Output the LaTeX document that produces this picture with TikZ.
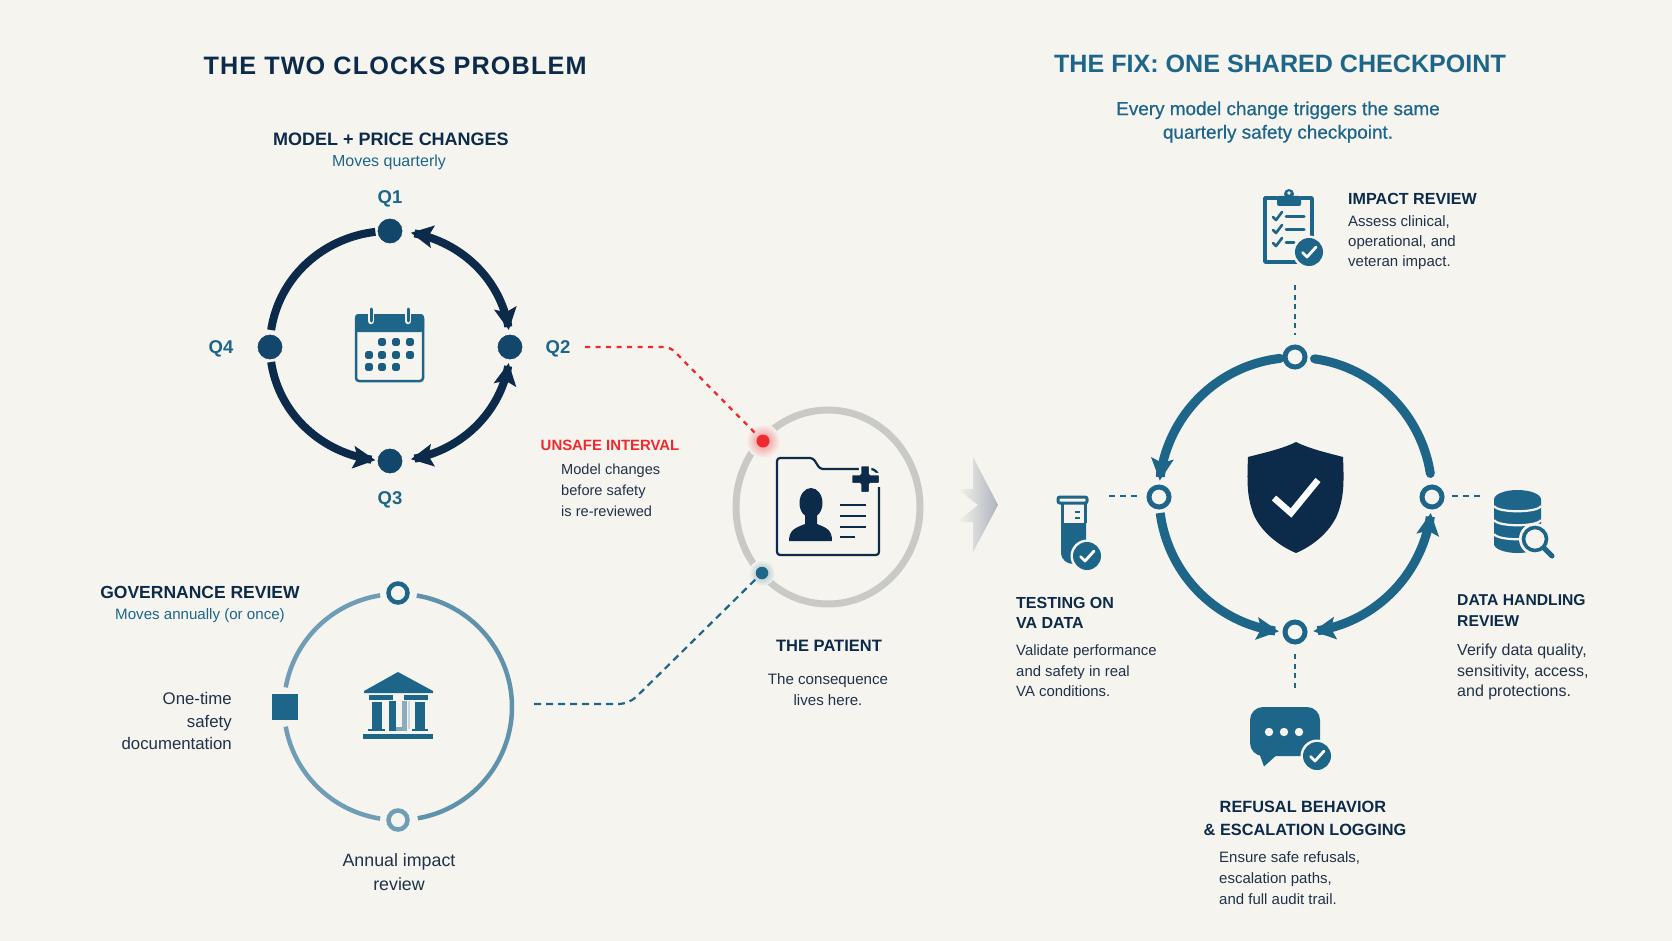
\documentclass[tikz,border=0pt]{standalone}
\usepackage{fontspec}
\setmainfont{Liberation Sans}
\newfontfamily\medfont[FakeBold=0.6]{Liberation Sans}
\newfontfamily\spacedbold[LetterSpace=4.5]{Liberation Sans Bold}
\usetikzlibrary{arrows.meta,calc}
\definecolor{bgc}{HTML}{F6F4EF}
\definecolor{navy}{HTML}{0C2A49}
\definecolor{teal}{HTML}{1D6689}
\definecolor{nodeblue}{HTML}{12466A}
\definecolor{soft}{HTML}{5E92AD}
\definecolor{softer}{HTML}{6F9DB5}
\definecolor{graya}{HTML}{C9C9C6}
\definecolor{redx}{HTML}{EE2A2E}
\definecolor{ink}{HTML}{1F3249}
\newcommand{\fs}[2]{\fontsize{#1}{#2}\selectfont}
\newcommand{\ringarc}[7]{\draw[#1] plot[domain=#6:#7,samples=36,smooth,variable=\t] ({#2+#4*cos(\t)},{#3+#5*sin(\t)});}
\newcommand{\badge}[2]{%
  \fill[bgc] (#1,#2) circle (16.5);
  \fill[teal] (#1,#2) circle (14);
  \draw[white,line width=2.8,line cap=round,line join=round] ($(#1,#2)+(-6.5,0.5)$) -- ($(#1,#2)+(-2,5)$) -- ($(#1,#2)+(7,-5)$);
}
\tikzset{
  x=1pt,y=-1pt,
  >={Stealth[length=22pt,width=22pt,inset=4pt]},
  title/.style={text=navy},
  head/.style={font=\fs{18}{21}\bfseries,text=navy,align=left,inner sep=0pt},
  body/.style={text=ink,align=left,inner sep=0pt},
  sub/.style={text=teal,inner sep=0pt},
  qlabel/.style={font=\fs{18.5}{22}\bfseries,text=teal,inner sep=0pt},
  qdot/.style={circle,fill=nodeblue,draw=bgc,line width=1pt,minimum size=26pt,inner sep=0pt},
  tealring/.style={circle,fill=bgc,draw=teal,line width=5pt,minimum size=20pt,inner sep=0pt},
  reddash/.style={redx,line width=2.3pt,dash pattern=on 5pt off 5.5pt},
  bluedash/.style={teal,line width=2.2pt,dash pattern=on 7pt off 5pt},
  shortdash/.style={teal,line width=2.2pt,dash pattern=on 6pt off 5pt},
  clockarc/.style={navy,line width=8pt},
  fixarc/.style={teal,line width=9pt},
  govarc/.style={soft,line width=4.5pt},
  icon/.style={teal,line width=3.5pt,line cap=round,line join=round}
}
\begin{document}
\begin{tikzpicture}
\useasboundingbox (0,0) rectangle (1672,941);
\fill[bgc] (0,0) rectangle (1672,941);

% titles
\node[title,font=\fs{25.2}{30}\spacedbold] (titleL) at (395,66) {THE TWO CLOCKS PROBLEM};
\node[title,text=teal,font=\fs{25.1}{30}\bfseries] (titleR) at (1280,63.5) {THE FIX: ONE SHARED CHECKPOINT};
\node[font=\fs{18.9}{23.5}\medfont,text=teal,align=center] (subR) at (1278,122) {Every model change triggers the same\\quarterly safety checkpoint.};

% model clock
\node[head,align=center] (modelH) at (391,139) {MODEL + PRICE CHANGES};
\node[sub,font=\fs{16}{19}] (modelS) at (389,162) {Moves quarterly};
\ringarc{clockarc}{390}{346}{120}{115}{263}{188}
\ringarc{clockarc,<->}{390}{346}{120}{115}{280}{352}
\ringarc{clockarc,<->}{390}{346}{120}{115}{80}{8.5}
\ringarc{clockarc,<-}{390}{346}{120}{115}{97}{172}
\node[qdot] (q1) at (390,231) {};
\node[qdot] (q2) at (510,347) {};
\node[qdot] (q3) at (390,461) {};
\node[qdot] (q4) at (270,347) {};
\node[qlabel] (lq1) at (390,199) {Q1};
\node[qlabel] (lq2) at (558,349) {Q2};
\node[qlabel] (lq3) at (390,499.5) {Q3};
\node[qlabel] (lq4) at (221,349) {Q4};

% calendar icon
\draw[teal,line width=2.5pt,rounded corners=3pt] (356,316) rectangle (423,381);
\fill[teal,rounded corners=3pt] (355,314) rectangle (424,332);
\foreach \px in {371,408}{
  \draw[bgc,line width=6.5pt,line cap=round] (\px,309) -- (\px,321);
  \draw[teal,line width=3pt,line cap=round] (\px,309) -- (\px,321);
}
\foreach \px/\py in {382/342,396/342,410/342,369/355,382/355,396/355,410/355,369/367,382/367,396/367}{
  \fill[teal!85!navy,rounded corners=2pt] (\px-3.8,\py-3.8) rectangle (\px+3.8,\py+3.8);
}

% governance
\node[head,align=center,font=\fs{17.5}{21}\bfseries] (govH) at (200,592) {GOVERNANCE REVIEW};
\node[sub,font=\fs{15.1}{18}] (govS) at (200,615.5) {Moves annually (or once)};
\ringarc{govarc,softer}{398}{707}{114}{113}{261}{190}
\ringarc{govarc}{398}{707}{114}{113}{279.5}{440}
\ringarc{govarc,softer}{398}{707}{114}{113}{99}{170}
\node[circle,fill=bgc,draw=teal,line width=4.5pt,minimum size=19pt,inner sep=0pt] (govT) at (398,593) {};
\node[circle,fill=bgc,draw=softer,line width=4.5pt,minimum size=19pt,inner sep=0pt] (govB) at (398,820) {};
\node[rectangle,fill=teal,minimum size=26pt,inner sep=0pt] (govL) at (285,707) {};
\node[body,align=right,font=\fs{16.8}{22.5},anchor=east] (govLt) at (232,721) {One-time\\safety\\documentation};
\node[body,align=center,font=\fs{17.8}{23.5}] (govBt) at (399,872) {Annual impact\\review};

% temple icon
\fill[teal] (398,672) -- (433,691) -- (433,693) -- (364,693) -- (364,691) -- cycle;
\fill[teal] (369,695) rectangle (393,699.5);
\fill[teal] (404,695) rectangle (428,699.5);
\fill[teal] (372,702) rectangle (381.5,729);
\fill[teal] (415,702) rectangle (425,729);
\fill[teal] (368,729) rectangle (385,731);
\fill[teal] (412,729) rectangle (428,731);
\fill[teal] (389,701) rectangle (396,731);
\fill[teal!55!bgc] (396,727) rectangle (407,731);
\fill[teal!50!bgc] (402,701) rectangle (407,731);
\fill[teal!20!bgc] (408,701) rectangle (410,729);
\fill[teal] (363,734) rectangle (433,739);

% patient
\draw[graya,line width=7pt] (828,507) ellipse (92 and 97);
\shade[inner color=redx!55!bgc,outer color=bgc] (763,441) circle (17);
\shade[inner color=teal!45!bgc,outer color=bgc] (762,573) circle (13);
\node[circle,fill=redx,minimum size=13pt,inner sep=0pt] (rdot) at (763,441) {};
\node[circle,fill=teal,minimum size=12.5pt,inner sep=0pt] (bdot) at (762,573) {};
\node[head,font=\fs{16.5}{20}\bfseries] (patH) at (829,646) {THE PATIENT};
\node[body,align=center,font=\fs{15.1}{20.5}] (patB) at (828,689.5) {The consequence\\lives here.};
\draw[navy,line width=2.2pt,line join=round,rounded corners=3pt] (879,487) -- (879,555) -- (777,555) -- (777,458) -- (813,458) -- (820,469) -- (874,469) -- (879,475);
\fill[navy,draw=bgc,line width=2.5pt,rounded corners=1pt] (860,465) -- (870,465) -- (870,474) -- (880,474) -- (880,484) -- (870,484) -- (870,493) -- (860,493) -- (860,484) -- (851,484) -- (851,474) -- (860,474) -- cycle;
\fill[navy] (811,503) ellipse (11.5 and 15);
\fill[navy] (789,541) .. controls (789,530) and (795,528) .. (805,524) -- (805,512) -- (817,512) -- (817,524) .. controls (827,528) and (832,530) .. (832,541) -- cycle;
\foreach \ly/\lx in {505/866,516/866,527/866,537/855}{
  \draw[navy,line width=2.6pt] (840,\ly) -- (\lx,\ly);
}
% big arrow
\shade[left color=bgc,right color=gray!55!navy!45!white] (957,489) -- (973,489) -- (973,457) -- (998,505) -- (973,552) -- (973,522) -- (957,522) -- (978,505) -- cycle;

% unsafe
\node[font=\fs{14.9}{18}\bfseries,text=redx,inner sep=0pt] (unsafeH) at (610,445) {UNSAFE INTERVAL};
\node[body,align=left,anchor=west,font=\fs{14.6}{20.8}] (unsafeB) at (561,490) {Model changes\\before safety\\is re-reviewed};

% connectors to patient
\coordinate (rs) at (585,347);
\coordinate (rc) at (670,347);
\draw[reddash,rounded corners=6pt] (rs) -- (rc) -- (rdot);
\coordinate (bs) at (534,704);
\coordinate (bc) at (629,704);
\draw[bluedash,rounded corners=10pt] (bs) -- (bc) -- (bdot);

% shared checkpoint ring
\ringarc{fixarc,line cap=round,->}{1295.5}{495}{136.5}{137.5}{263.5}{186}
\ringarc{fixarc,line cap=round}{1295.5}{495}{136.5}{137.5}{278}{351}
\ringarc{fixarc,<->}{1295.5}{495}{136.5}{137.5}{82.5}{7.5}
\ringarc{fixarc,->}{1295.5}{495}{136.5}{137.5}{172.5}{97}
\node[tealring] (rT) at (1295,357) {};
\node[tealring] (rB) at (1295,632) {};
\node[tealring] (rL) at (1159,497) {};
\node[tealring] (rR) at (1432,497) {};

% shield
\fill[navy] (1296,442) .. controls (1310,449) and (1328,453) .. (1343,457) .. controls (1344,480) and (1344,495) .. (1339,510) .. controls (1333,530) and (1313,546) .. (1296,553) .. controls (1279,546) and (1258,530) .. (1252,510) .. controls (1247,495) and (1247,480) .. (1248,457) .. controls (1263,453) and (1282,449) .. (1296,442) -- cycle;
\draw[white,line width=6.5pt] (1274,498) -- (1291,513) -- (1318,480);

% dashed spokes
\coordinate (sT) at (1295,285);
\coordinate (sTe) at (1295,335);
\coordinate (sL) at (1109,496);
\coordinate (sLe) at (1137,496);
\coordinate (sR) at (1452,496);
\coordinate (sRe) at (1480,496);
\coordinate (sB) at (1295,654);
\coordinate (sBe) at (1295,688);
\draw[shortdash,dash pattern=on 5pt off 4.5pt] (sT) -- (sTe);
\draw[shortdash] (sL) -- (sLe);
\draw[shortdash] (sR) -- (sRe);
\draw[shortdash,dash pattern=on 5pt off 4.5pt] (sB) -- (sBe);

% impact review
\draw[icon] (1277,198) -- (1265,198) -- (1265,262) -- (1312,262) -- (1312,198) -- (1301,198);
\fill[teal,rounded corners=2pt] (1277,196) rectangle (1301,206);
\fill[teal] (1289,194) circle (5);
\fill[bgc] (1289,193) circle (1.8);
\foreach \cy in {217,230,243}{
  \draw[icon,line width=2.6pt] (1273,\cy) -- (1276,\cy+3) -- (1282,\cy-5);
}
\draw[icon,line width=3pt] (1286,217) -- (1304,217);
\draw[icon,line width=3pt] (1286,230) -- (1304,230);
\draw[icon,line width=3pt] (1286,243) -- (1294,243);
\badge{1309}{252}
\node[head,font=\fs{16.1}{20}\bfseries,anchor=west] (impH) at (1348,198.5) {IMPACT REVIEW};
\node[body,font=\fs{15}{20},anchor=west] (impB) at (1348,242.5) {Assess clinical,\\operational, and\\veteran impact.};

% testing
\draw[teal,line width=3pt,rounded corners=2pt] (1058,497) rectangle (1087,503);
\draw[teal,line width=3pt] (1062,503) -- (1062,523) (1085,503) -- (1085,523);
\fill[teal] (1061,523) -- (1086,523) -- (1086,552) .. controls (1086,560) and (1079,564) .. (1073.5,564) .. controls (1067,564) and (1061,560) .. (1061,552) -- cycle;
\draw[teal,line width=2pt] (1075,512) -- (1080,512);
\draw[teal,line width=2pt] (1075,518) -- (1080,518);
\badge{1087}{556}
\node[head,font=\fs{16}{20.5}\bfseries,anchor=west] (testH) at (1016,613) {TESTING ON\\VA DATA};
\node[body,font=\fs{14.9}{20.5},anchor=west] (testB) at (1016,671) {Validate performance\\and safety in real\\VA conditions.};

% data handling
\fill[teal] (1494,499) -- (1494,544) .. controls (1494,549) and (1505,553) .. (1517.5,553) .. controls (1530,553) and (1541,549) .. (1541,544) -- (1541,499) -- cycle;
\fill[teal] (1517.5,499.5) ellipse (23.5 and 9.5);
\draw[bgc,line width=2.2pt] (1494,506) .. controls (1498,513) and (1537,513) .. (1541,506);
\draw[bgc,line width=2.2pt] (1494,520) .. controls (1498,527) and (1537,527) .. (1541,520);
\draw[bgc,line width=2.2pt] (1494,534) .. controls (1498,541) and (1537,541) .. (1541,534);
\fill[bgc] (1535,539) circle (16);
\draw[teal,line width=3.6pt] (1535,539) circle (11.5);
\draw[teal,line width=5pt,line cap=round] (1544,548) -- (1552,556);
\node[head,font=\fs{15.7}{21}\bfseries,anchor=west] (dataH) at (1457,610.5) {DATA HANDLING\\REVIEW};
\node[body,font=\fs{16}{20.8},anchor=west] (dataB) at (1457,672) {Verify data quality,\\sensitivity, access,\\and protections.};

% refusal
\fill[teal,rounded corners=13pt] (1250,707) rectangle (1320,756);
\fill[teal] (1258,750) -- (1264,766.5) -- (1280,752) -- cycle;
\foreach \dx in {1269,1284,1299}{ \fill[bgc] (\dx,732) circle (4.2); }
\badge{1317}{756}
\node[head,font=\fs{16.3}{22.5}\bfseries,align=left] (refH) at (1305,818.5) {\hspace*{16pt}REFUSAL BEHAVIOR\\\& ESCALATION LOGGING};
\node[body,font=\fs{15}{20.8},anchor=west] (refB) at (1219,878) {Ensure safe refusals,\\escalation paths,\\and full audit trail.};
\end{tikzpicture}
\end{document}
